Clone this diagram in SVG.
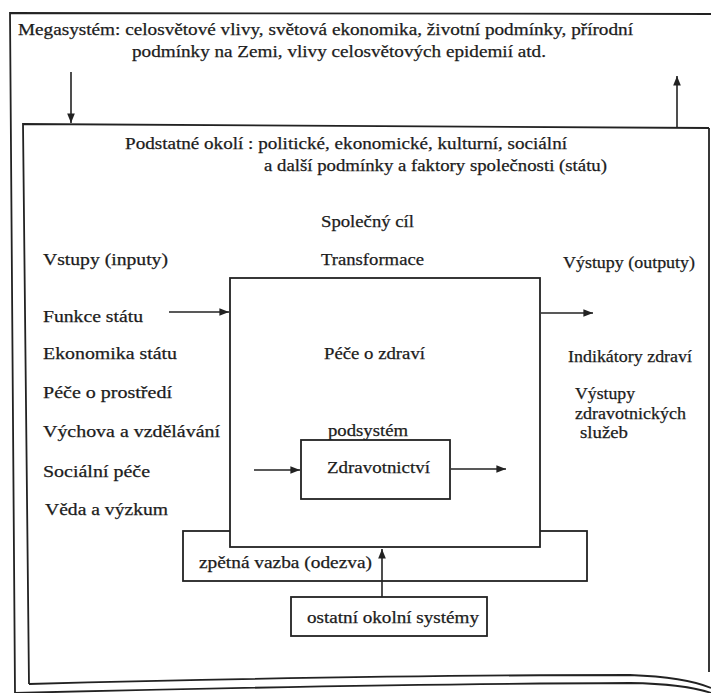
<svg xmlns="http://www.w3.org/2000/svg" width="711" height="693" viewBox="0 0 711 693">
<style>
  .frame{fill:none;stroke:#222;stroke-width:1.8}
  .box{fill:#fff;stroke:#222;stroke-width:1.8}
  .con{fill:none;stroke:#222;stroke-width:1.6}
  text{font-family:"Liberation Serif","Times New Roman",serif;font-size:16.5px;fill:#1c1c1c;stroke:#1c1c1c;stroke-width:0.25}
</style>
<defs>
  <marker id="ah" viewBox="0 0 10 8" refX="10" refY="4" markerWidth="6" markerHeight="5" markerUnits="strokeWidth" orient="auto">
    <path d="M0,0 L10,4 L0,8 z" fill="#222"/>
  </marker>
</defs>
<rect width="711" height="693" fill="#fff"/>

<g id="megasystem">
  <path class="frame" d="M711,14 L10,13 L15,693"/>
  <text x="18" y="35" textLength="615" lengthAdjust="spacingAndGlyphs">Megasystém: celosvětové vlivy, světová ekonomika, životní podmínky, přírodní</text>
  <text x="132" y="57" textLength="414" lengthAdjust="spacingAndGlyphs">podmínky na Zemi, vlivy celosvětových epidemií atd.</text>
  <path class="frame" d="M15,693 Q380,684 630,683 Q685,684 711,693"/>
</g>

<g id="podstatne-okoli">
  <path class="frame" d="M709,128 L23,124 L29,684"/>
  <path class="frame" d="M709,128 L709,672"/>
  <path class="frame" d="M29,684 Q380,675 630,675 Q685,677 711,688"/>
  <text x="125" y="149" textLength="442" lengthAdjust="spacingAndGlyphs">Podstatné okolí : politické, ekonomické, kulturní, sociální</text>
  <text x="264" y="171" textLength="343" lengthAdjust="spacingAndGlyphs">a další podmínky a faktory společnosti (státu)</text>
</g>

<g id="labels-top">
  <text x="321" y="227" textLength="93" lengthAdjust="spacingAndGlyphs">Společný cíl</text>
  <text x="321" y="265" textLength="103" lengthAdjust="spacingAndGlyphs">Transformace</text>
  <text x="43" y="265" textLength="125" lengthAdjust="spacingAndGlyphs">Vstupy (inputy)</text>
  <text x="563" y="268" textLength="132" lengthAdjust="spacingAndGlyphs">Výstupy (outputy)</text>
</g>

<g id="vstupy">
  <text x="43" y="322" textLength="100" lengthAdjust="spacingAndGlyphs">Funkce státu</text>
  <text x="43" y="359" textLength="134" lengthAdjust="spacingAndGlyphs">Ekonomika státu</text>
  <text x="43" y="398" textLength="129" lengthAdjust="spacingAndGlyphs">Péče o prostředí</text>
  <text x="43" y="437" textLength="177" lengthAdjust="spacingAndGlyphs">Výchova a vzdělávání</text>
  <text x="43" y="477" textLength="107" lengthAdjust="spacingAndGlyphs">Sociální péče</text>
  <text x="45" y="515" textLength="123" lengthAdjust="spacingAndGlyphs">Věda a výzkum</text>
</g>

<g id="vystupy">
  <text x="568" y="362" textLength="124" lengthAdjust="spacingAndGlyphs">Indikátory zdraví</text>
  <text x="575" y="399" textLength="60" lengthAdjust="spacingAndGlyphs">Výstupy</text>
  <text x="575" y="419" textLength="111" lengthAdjust="spacingAndGlyphs">zdravotnických</text>
  <text x="580" y="438" textLength="48" lengthAdjust="spacingAndGlyphs">služeb</text>
</g>

<g id="zpetna-vazba">
  <rect class="box" x="183" y="531" width="404" height="50"/>
  <text x="199" y="568" textLength="173" lengthAdjust="spacingAndGlyphs">zpětná vazba (odezva)</text>
</g>

<g id="pece-o-zdravi">
  <rect class="box" x="230" y="278" width="310" height="269"/>
  <text x="324" y="359" textLength="101" lengthAdjust="spacingAndGlyphs">Péče o zdraví</text>
  <text x="328" y="436" textLength="80" lengthAdjust="spacingAndGlyphs">podsystém</text>
</g>

<g id="zdravotnictvi">
  <rect class="box" x="301" y="440" width="149" height="59"/>
  <text x="327" y="473" textLength="103" lengthAdjust="spacingAndGlyphs">Zdravotnictví</text>
</g>

<g id="ostatni-okolni-systemy">
  <rect class="box" x="291" y="597" width="196" height="39"/>
  <text x="307" y="623" textLength="172" lengthAdjust="spacingAndGlyphs">ostatní okolní systémy</text>
</g>

<g id="connectors">
  <line class="con" x1="71" y1="72" x2="71" y2="123" marker-end="url(#ah)"/>
  <line class="con" x1="677" y1="127" x2="677" y2="76" marker-end="url(#ah)"/>
  <line class="con" x1="169" y1="312" x2="229" y2="312" marker-end="url(#ah)"/>
  <line class="con" x1="541" y1="313" x2="593" y2="313" marker-end="url(#ah)"/>
  <line class="con" x1="254" y1="470" x2="300" y2="470" marker-end="url(#ah)"/>
  <line class="con" x1="451" y1="469" x2="506" y2="469" marker-end="url(#ah)"/>
  <line class="con" x1="382" y1="597" x2="382" y2="549" marker-end="url(#ah)"/>
</g>
</svg>
